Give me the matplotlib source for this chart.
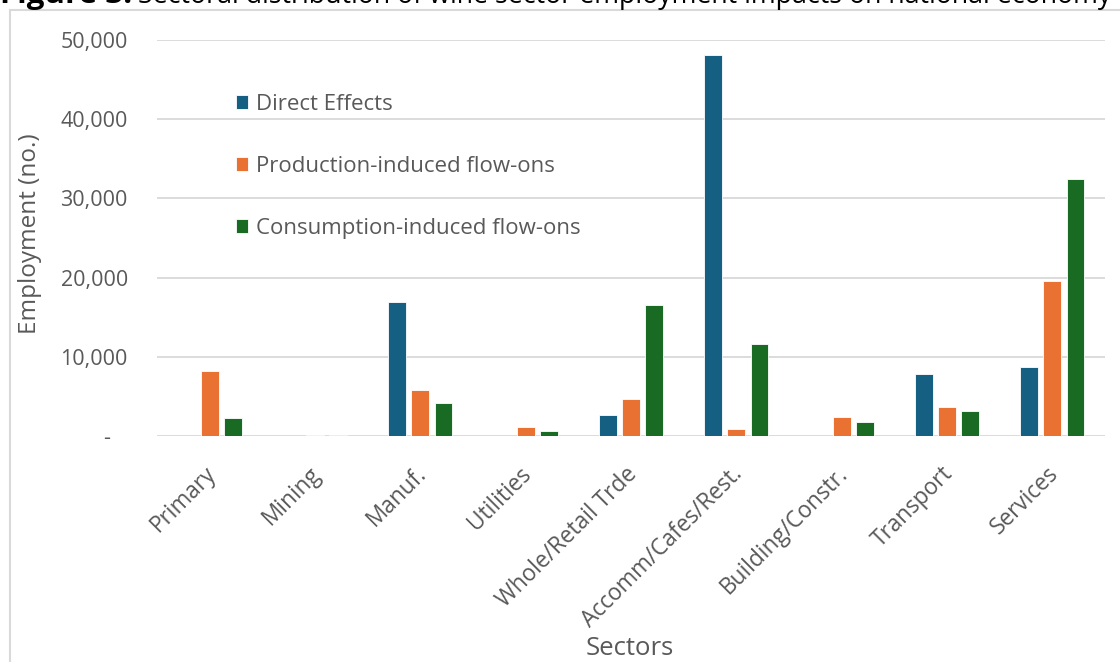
import numpy as np
import matplotlib.pyplot as plt
import matplotlib.transforms as mtransforms
from matplotlib.patches import Rectangle
from matplotlib.ticker import FuncFormatter

plt.rcParams['font.family'] = ['Open Sans', 'DejaVu Sans']

sectors = ['Primary', 'Mining', 'Manuf.', 'Utilities', 'Whole/Retail Trde',
           'Accomm/Cafes/Rest.', 'Building/Constr.', 'Transport', 'Services']
direct = [0, 0, 16900, 0, 2600, 48100, 0, 7800, 8700]
production = [8200, 150, 5850, 1100, 4650, 900, 2400, 3600, 19600]
consumption = [2250, 100, 4150, 650, 16600, 11650, 1750, 3100, 32400]

series_names = ['Direct Effects', 'Production-induced flow-ons',
                'Consumption-induced flow-ons']
colors = ['#156082', '#E97132', '#196B24']
grey = '#595959'

W, H = 1120, 662
fig = plt.figure(figsize=(W / 100, H / 100), dpi=100)
ax = fig.add_axes([157 / W, 1 - 436 / H, (1105 - 157) / W, (436 - 40) / H])

x = np.arange(len(sectors))
bw = 0.17
step = 0.22
for i, (vals, name, c) in enumerate(zip([direct, production, consumption],
                                        series_names, colors)):
    ax.bar(x + (i - 1) * step, vals, width=bw, color=c, label=name,
           edgecolor='white', linewidth=0.6, zorder=3)

ax.set_xlim(-0.5, len(sectors) - 0.5)
ax.set_ylim(0, 50000)
ax.set_yticks(np.arange(0, 50001, 10000))
ax.yaxis.set_major_formatter(
    FuncFormatter(lambda v, p: '-   ' if v == 0 else f'{int(v):,}'))
ax.grid(axis='y', color='#D9D9D9', linewidth=1.3, zorder=0)
for s in ax.spines.values():
    s.set_visible(False)
ax.tick_params(length=0, labelsize=15.5, labelcolor=grey)
ax.tick_params(axis='y', pad=21)

ax.set_xticks(x)
ax.set_xticklabels(sectors, rotation=45, ha='right', rotation_mode='anchor',
                   fontsize=16.3)
ax.tick_params(axis='x', pad=13)
nudge = mtransforms.ScaledTranslation(-6 / 100, -8 / 100, fig.dpi_scale_trans)
for lbl in ax.get_xticklabels():
    lbl.set_transform(lbl.get_transform() + nudge)

fig.text(30 / W, 1 - 234 / H, 'Employment (no.)', fontsize=17.5, color=grey,
         rotation=90, ha='center', va='center')
fig.text(630 / W, 1 - 655 / H, 'Sectors', fontsize=18.5, color=grey,
         ha='center', va='baseline')

leg = ax.legend(loc='upper left', bbox_to_anchor=(0.062, 0.915), frameon=False,
                fontsize=16, labelcolor=grey, handlelength=0.55,
                handleheight=0.6, handletextpad=0.35, labelspacing=1.85)

# outer chart frame and clipped caption above it
fig.add_artist(Rectangle((10 / W, -0.1), 1.2, 1 - 10 / H + 0.1,
                         transform=fig.transFigure, fill=False,
                         edgecolor='#D9D9D9', linewidth=1.5))
cap_size = 17
head = fig.text(0, 1 - 3 / H, 'Figure 3:', fontsize=cap_size, weight='bold',
                color='black', ha='left', va='baseline')
rest = fig.text(138 / W, 1 - 3 / H,
                'Sectoral distribution of wine sector employment impacts on national economy',
                fontsize=cap_size, color='black', ha='left', va='baseline')
fig.canvas.draw()
r = fig.canvas.get_renderer()
rest.set_fontsize(cap_size * (1111 - 138) / rest.get_window_extent(r).width)
head.set_fontsize(cap_size * 132 / head.get_window_extent(r).width)

fig.savefig('out.png', dpi=100)
